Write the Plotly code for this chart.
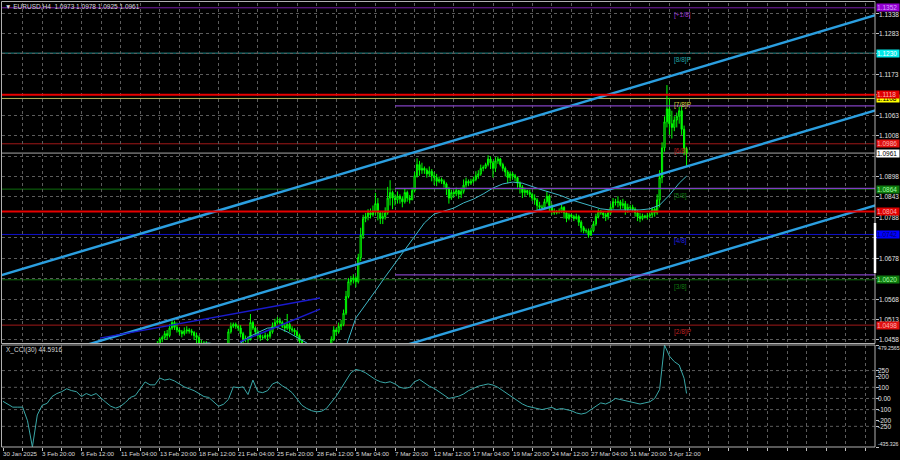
import plotly.graph_objects as go

W, H = 900, 460

def pxx(p):
    return p / W

def pxy(p):
    return 1 - p / H

# ---------------- data ----------------
# H4 bars, index 0 = 30 Jan 2025 04:00 ... index 279 = 4 Apr 2025 16:00
closes = [
    1.0425, 1.0432, 1.0410, 1.0395, 1.0390,
    1.0385, 1.0378, 1.0385, 1.0372, 1.0365, 1.0362,
    1.0230, 1.0260, 1.0290, 1.0310, 1.0330, 1.0345,
    1.0340, 1.0330, 1.0345, 1.0370, 1.0365, 1.0375,
    1.0385, 1.0392, 1.0410, 1.0430, 1.0415, 1.0405,
    1.0400, 1.0395, 1.0370, 1.0375, 1.0385, 1.0382,
    1.0382, 1.0385, 1.0375, 1.0350, 1.0330, 1.0328,
    1.0305, 1.0315, 1.0325, 1.0318, 1.0310, 1.0305,
    1.0300, 1.0290, 1.0310, 1.0355, 1.0362, 1.0360,
    1.0362, 1.0365, 1.0370, 1.0300, 1.0360, 1.0380,
    1.0385, 1.0378, 1.0395, 1.0425, 1.0445, 1.0460,
    1.0465, 1.0475, 1.0470, 1.0490, 1.0505, 1.0492,
    1.0485, 1.0480, 1.0475, 1.0482, 1.0485, 1.0482,
    1.0478, 1.0470, 1.0465, 1.0445, 1.0450, 1.0448,
    1.0445, 1.0440, 1.0425, 1.0415, 1.0420, 1.0425,
    1.0428, 1.0430, 1.0440, 1.0480, 1.0495, 1.0500,
    1.0495, 1.0490, 1.0475, 1.0460, 1.0462, 1.0458,
    1.0505, 1.0490, 1.0480, 1.0470, 1.0465, 1.0465,
    1.0470, 1.0468, 1.0480, 1.0495, 1.0505, 1.0510,
    1.0505, 1.0495, 1.0490, 1.0500, 1.0488, 1.0485,
    1.0480, 1.0470, 1.0455, 1.0425, 1.0405, 1.0400,
    1.0405, 1.0395, 1.0385, 1.0390, 1.0370, 1.0375,
    1.0405, 1.0425, 1.0440, 1.0460, 1.0485, 1.0480,
    1.0495, 1.0500, 1.0530, 1.0575, 1.0615, 1.0620,
    1.0625, 1.0615, 1.0680, 1.0740, 1.0785, 1.0790,
    1.0800, 1.0795, 1.0805, 1.0825, 1.0800, 1.0785,
    1.0790, 1.0800, 1.0840, 1.0855, 1.0840, 1.0835,
    1.0845, 1.0838, 1.0830, 1.0855, 1.0840, 1.0835,
    1.0860, 1.0900, 1.0930, 1.0915, 1.0920, 1.0915,
    1.0905, 1.0912, 1.0900, 1.0895, 1.0885, 1.0890,
    1.0885, 1.0878, 1.0865, 1.0840, 1.0855, 1.0852,
    1.0860, 1.0850, 1.0858, 1.0875, 1.0885, 1.0880,
    1.0885, 1.0890, 1.0900, 1.0905, 1.0920, 1.0922,
    1.0930, 1.0945, 1.0935, 1.0920, 1.0940, 1.0945,
    1.0930, 1.0920, 1.0910, 1.0895, 1.0905, 1.0900,
    1.0895, 1.0880, 1.0870, 1.0855, 1.0860, 1.0855,
    1.0850, 1.0840, 1.0835, 1.0820, 1.0815, 1.0815,
    1.0830, 1.0845, 1.0820, 1.0805, 1.0800, 1.0802,
    1.0805, 1.0815, 1.0800, 1.0785, 1.0795, 1.0790,
    1.0785, 1.0790, 1.0775, 1.0760, 1.0752, 1.0752,
    1.0740, 1.0752, 1.0770, 1.0790, 1.0805, 1.0800,
    1.0795, 1.0790, 1.0800, 1.0815, 1.0830, 1.0828,
    1.0830, 1.0820, 1.0825, 1.0810, 1.0815, 1.0815,
    1.0810, 1.0800, 1.0790, 1.0785, 1.0792, 1.0790,
    1.0792, 1.0795, 1.0810, 1.0800, 1.0835, 1.0895,
    1.0975, 1.1045, 1.1080, 1.1040, 1.1030, 1.1050,
    1.1060, 1.1075, 1.1025, 1.0973, 1.0961,
]
highs = [
    1.0440, 1.0445, 1.0438, 1.0420, 1.0402,
    1.0398, 1.0392, 1.0395, 1.0390, 1.0380, 1.0372,
    1.0260, 1.0275, 1.0300, 1.0325, 1.0345, 1.0360,
    1.0355, 1.0350, 1.0360, 1.0380, 1.0385, 1.0382,
    1.0390, 1.0400, 1.0420, 1.0442, 1.0435, 1.0420,
    1.0410, 1.0405, 1.0400, 1.0385, 1.0395, 1.0390,
    1.0390, 1.0392, 1.0390, 1.0380, 1.0355, 1.0338,
    1.0335, 1.0320, 1.0330, 1.0332, 1.0325, 1.0315,
    1.0312, 1.0305, 1.0318, 1.0368, 1.0375, 1.0368,
    1.0370, 1.0372, 1.0380, 1.0372, 1.0365, 1.0385,
    1.0392, 1.0390, 1.0400, 1.0435, 1.0455, 1.0465,
    1.0470, 1.0482, 1.0485, 1.0500, 1.0513, 1.0510,
    1.0505, 1.0490, 1.0485, 1.0492, 1.0495, 1.0490,
    1.0488, 1.0482, 1.0478, 1.0470, 1.0458, 1.0455,
    1.0455, 1.0450, 1.0445, 1.0430, 1.0428, 1.0432,
    1.0435, 1.0438, 1.0450, 1.0488, 1.0505, 1.0505,
    1.0505, 1.0500, 1.0498, 1.0480, 1.0470, 1.0468,
    1.0528, 1.0510, 1.0495, 1.0485, 1.0478, 1.0472,
    1.0478, 1.0475, 1.0488, 1.0505, 1.0515, 1.0520,
    1.0518, 1.0510, 1.0502, 1.0528, 1.0505, 1.0495,
    1.0490, 1.0485, 1.0475, 1.0460, 1.0430, 1.0410,
    1.0412, 1.0408, 1.0398, 1.0400, 1.0395, 1.0382,
    1.0415, 1.0435, 1.0450, 1.0468, 1.0495, 1.0490,
    1.0505, 1.0512, 1.0540, 1.0590, 1.0625, 1.0630,
    1.0635, 1.0630, 1.0690, 1.0760, 1.0795, 1.0800,
    1.0810, 1.0812, 1.0820, 1.0854, 1.0840, 1.0805,
    1.0805, 1.0815, 1.0870, 1.0888, 1.0860, 1.0850,
    1.0858, 1.0850, 1.0845, 1.0865, 1.0860, 1.0848,
    1.0868, 1.0910, 1.0947, 1.0940, 1.0935, 1.0925,
    1.0920, 1.0925, 1.0918, 1.0910, 1.0905, 1.0898,
    1.0895, 1.0890, 1.0882, 1.0870, 1.0862, 1.0860,
    1.0868, 1.0862, 1.0868, 1.0890, 1.0895, 1.0890,
    1.0892, 1.0898, 1.0912, 1.0915, 1.0930, 1.0928,
    1.0935, 1.0955, 1.0952, 1.0940, 1.0950, 1.0952,
    1.0948, 1.0935, 1.0925, 1.0915, 1.0912, 1.0910,
    1.0905, 1.0898, 1.0885, 1.0875, 1.0868, 1.0862,
    1.0862, 1.0855, 1.0850, 1.0840, 1.0830, 1.0822,
    1.0838, 1.0858, 1.0850, 1.0825, 1.0812, 1.0808,
    1.0812, 1.0822, 1.0818, 1.0805, 1.0800, 1.0798,
    1.0795, 1.0798, 1.0795, 1.0780, 1.0765, 1.0758,
    1.0758, 1.0760, 1.0778, 1.0798, 1.0810, 1.0808,
    1.0805, 1.0800, 1.0808, 1.0825, 1.0840, 1.0838,
    1.0845, 1.0835, 1.0838, 1.0832, 1.0825, 1.0822,
    1.0822, 1.0815, 1.0808, 1.0800, 1.0798, 1.0795,
    1.0800, 1.0802, 1.0815, 1.0815, 1.0850, 1.0915,
    1.0990, 1.1060, 1.1144, 1.1110, 1.1075, 1.1060,
    1.1070, 1.1085, 1.1090, 1.1035, 1.0978,
]
lows = [
    1.0415, 1.0418, 1.0400, 1.0380, 1.0382,
    1.0378, 1.0370, 1.0372, 1.0358, 1.0355, 1.0350,
    1.0141, 1.0220, 1.0250, 1.0280, 1.0300, 1.0320,
    1.0328, 1.0318, 1.0325, 1.0340, 1.0355, 1.0360,
    1.0370, 1.0380, 1.0390, 1.0405, 1.0405, 1.0398,
    1.0392, 1.0382, 1.0365, 1.0360, 1.0370, 1.0375,
    1.0375, 1.0375, 1.0360, 1.0320, 1.0315, 1.0320,
    1.0290, 1.0300, 1.0310, 1.0305, 1.0300, 1.0298,
    1.0290, 1.0280, 1.0285, 1.0305, 1.0345, 1.0352,
    1.0352, 1.0355, 1.0358, 1.0285, 1.0295, 1.0355,
    1.0375, 1.0365, 1.0372, 1.0390, 1.0420, 1.0440,
    1.0452, 1.0460, 1.0458, 1.0465, 1.0485, 1.0485,
    1.0478, 1.0472, 1.0465, 1.0470, 1.0475, 1.0475,
    1.0470, 1.0458, 1.0450, 1.0438, 1.0440, 1.0440,
    1.0438, 1.0430, 1.0410, 1.0400, 1.0408, 1.0415,
    1.0418, 1.0422, 1.0428, 1.0438, 1.0475, 1.0490,
    1.0488, 1.0482, 1.0465, 1.0450, 1.0452, 1.0450,
    1.0480, 1.0485, 1.0470, 1.0460, 1.0455, 1.0458,
    1.0460, 1.0455, 1.0462, 1.0475, 1.0490, 1.0500,
    1.0500, 1.0490, 1.0480, 1.0485, 1.0480, 1.0478,
    1.0470, 1.0462, 1.0445, 1.0415, 1.0395, 1.0392,
    1.0395, 1.0385, 1.0370, 1.0375, 1.0360, 1.0362,
    1.0372, 1.0400, 1.0420, 1.0435, 1.0455, 1.0470,
    1.0475, 1.0485, 1.0495, 1.0525, 1.0570, 1.0605,
    1.0610, 1.0600, 1.0610, 1.0670, 1.0730, 1.0775,
    1.0780, 1.0785, 1.0790, 1.0795, 1.0780, 1.0770,
    1.0770, 1.0782, 1.0795, 1.0820, 1.0810, 1.0820,
    1.0825, 1.0825, 1.0815, 1.0825, 1.0830, 1.0825,
    1.0835, 1.0855, 1.0895, 1.0900, 1.0905, 1.0905,
    1.0895, 1.0898, 1.0885, 1.0875, 1.0872, 1.0880,
    1.0878, 1.0868, 1.0848, 1.0825, 1.0835, 1.0842,
    1.0845, 1.0838, 1.0840, 1.0852, 1.0868, 1.0872,
    1.0875, 1.0880, 1.0885, 1.0892, 1.0900, 1.0912,
    1.0918, 1.0925, 1.0918, 1.0895, 1.0910, 1.0932,
    1.0925, 1.0912, 1.0898, 1.0880, 1.0885, 1.0890,
    1.0885, 1.0868, 1.0852, 1.0840, 1.0845, 1.0848,
    1.0842, 1.0832, 1.0822, 1.0808, 1.0805, 1.0808,
    1.0810, 1.0825, 1.0805, 1.0795, 1.0795, 1.0796,
    1.0798, 1.0800, 1.0785, 1.0775, 1.0780, 1.0785,
    1.0778, 1.0782, 1.0765, 1.0748, 1.0745, 1.0745,
    1.0733, 1.0738, 1.0748, 1.0765, 1.0785, 1.0795,
    1.0785, 1.0778, 1.0782, 1.0795, 1.0810, 1.0820,
    1.0815, 1.0810, 1.0812, 1.0795, 1.0800, 1.0808,
    1.0802, 1.0790, 1.0778, 1.0775, 1.0780, 1.0785,
    1.0782, 1.0786, 1.0788, 1.0790, 1.0795, 1.0815,
    1.0880, 1.0965, 1.1030, 1.1010, 1.1000, 1.1020,
    1.1030, 1.1040, 1.1010, 1.0955, 1.0925,
]
first_open = 1.0420
opens = [first_open] + closes[:-1]
bars = list(range(len(closes)))

# moving average, every 4 bars
ma_idx = list(range(0, 280, 4)) + [279]
ma_val = [
    1.0410, 1.0400, 1.0390, 1.0375, 1.0360, 1.0350, 1.0345, 1.0345,
    1.0350, 1.0355, 1.0355, 1.0350, 1.0345, 1.0345, 1.0350, 1.0365,
    1.0385, 1.0405, 1.0425, 1.0440, 1.0448, 1.0450, 1.0445, 1.0440,
    1.0445, 1.0465, 1.0478, 1.0490, 1.0492, 1.0480, 1.0465, 1.0450,
    1.0425, 1.0410, 1.0420, 1.0440, 1.0517, 1.0552, 1.0590, 1.0628,
    1.0665, 1.0700, 1.0738, 1.0773, 1.0797, 1.0805, 1.0813, 1.0827,
    1.0837, 1.0851, 1.0867, 1.0878, 1.0883, 1.0880, 1.0870, 1.0862,
    1.0854, 1.0846, 1.0835, 1.0827, 1.0819, 1.0811, 1.0808, 1.0808,
    1.0808, 1.0808, 1.0811, 1.0821, 1.0848, 1.0880, 1.0899,
]

# CCI(30), every 2 bars
cci_idx = list(range(0, 280, 2)) + [279]
cci_val = [
    -26, -52, -78, -78, -78, -200, -435.326, -148, -61, -44,
    17, 44, 61, 87, 70, 61, 17, 44, 26, 44,
    0, -35, -70, -87, -70, -35, 9, 26, 87, 148,
    122, 122, 183, 165, 174, 157, 130, 104, 87, 70,
    44, 17, 9, -35, -70, -52, -9, 104, 96, 104,
    35, 165, 61, 52, 70, 130, 148, 113, 87, 52,
    0, -61, -90, -110, -120, -115, -90, -40, 20, 90,
    160, 230, 260, 250, 230, 200, 170, 150, 140, 150,
    130, 100, 90, 100, 150, 170, 140, 110, 90, 60,
    30, 0, 10, 20, 40, 70, 90, 110, 120, 130,
    120, 100, 70, 40, 10, -20, -50, -70, -80, -90,
    -100, -90, -80, -100, -90, -100, -110, -130, -140, -130,
    -100, -70, -40, -50, -30, 0, -10, -20, -30, -40,
    -50, -40, -30, 0, 80, 479.2565, 380, 330, 300, 180,
    44.5916,
]

time_idx = list(range(0, 273, 16))
time_labels = ["30 Jan 2025", "3 Feb 20:00", "6 Feb 12:00", "11 Feb 04:00",
               "13 Feb 20:00", "18 Feb 12:00", "21 Feb 04:00", "25 Feb 20:00",
               "28 Feb 12:00", "5 Mar 04:00", "7 Mar 20:00", "12 Mar 12:00",
               "17 Mar 04:00", "19 Mar 20:00", "24 Mar 12:00", "27 Mar 04:00",
               "31 Mar 20:00", "3 Apr 12:00"]

# price grid (every 0.0055) and the labels that are not covered by level boxes
price_ticks = [1.0458, 1.0513, 1.0568, 1.0623, 1.0678, 1.0733, 1.0788, 1.0843,
               1.0898, 1.0953, 1.1008, 1.1063, 1.1118, 1.1173, 1.1228, 1.1283,
               1.1338]
price_labels = [1.0458, 1.0513, 1.0568, 1.0678, 1.0788, 1.0843, 1.0898,
                1.1008, 1.1063, 1.1173, 1.1283, 1.1338]

murrey_levels = [1.1352, 1.1230, 1.1108, 1.0986, 1.0864, 1.0742, 1.0620, 1.0498]
murrey_names = ["[+1/8]", "[8/8]P", "[7/8]P", "[6/8]", "[5/8]", "[4/8]", "[3/8]", "[2/8]P"]
murrey_line_colors = ["#7a1fa8", "#1e8c8c", "#b4b45a", "#a01818", "#0e6e0e", "#1010c8", "#0e6e0e", "#a01818"]
murrey_text_colors = ["#9a30d0", "#20a8a8", "#d8d840", "#c02020", "#107a10", "#2020e0", "#107a10", "#c02020"]
murrey_box_bg = ["#9400d3", "#00e8e8", "#ffff00", "#e01010", "#0e7a0e", "#0000ff", "#0e7a0e", "#e01010"]
murrey_box_fg = ["#d8a0ff", "#ffffff", "#000000", "#ffb0b0", "#a0ffa0", "#000060", "#a0ffa0", "#ffb0b0"]

red_levels = [1.1118, 1.0804]
purple_levels = [1.1088, 1.0866, 1.0633]
purple_start = 160
bid_price = 1.0961

chan_x = [-2, 357]
chan_upper = [1.0630, 1.1334]
chan_mid = [1.0374, 1.1078]
chan_low = [1.0118, 1.0822]

blue1_x = [39.6, 129.4]
blue1_y = [1.0463, 1.0571]
blue2_x = [96.7, 129.4]
blue2_y = [1.0453, 1.0541]

cci_axis_vals = [479.2565, 250, 200, 100, 0, -100, -200, -250, -435.326]
cci_axis_text = ["479.2565", "250", "200", "100", "0.00", "-100", "-200", "-250", "-435.326"]
cci_grid = [250, 100, 0, -100, -250]

# ---------------- figure ----------------
XR = [-0.408, 355.92]
YR = [1.04499, 1.13649]
CR = [-435.326, 479.2565]
FONT = "Liberation Sans, Arial, DejaVu Sans"
GRID = "#5c5c5c"

fig = go.Figure()

fig.add_trace(go.Candlestick(
    x=bars, open=opens, high=highs, low=lows, close=closes,
    increasing=dict(line=dict(color="#00ff00", width=1), fillcolor="#000000"),
    decreasing=dict(line=dict(color="#00ff00", width=1), fillcolor="#00ff00"),
    whiskerwidth=0, xaxis="x", yaxis="y", showlegend=False, hoverinfo="skip"))

fig.add_trace(go.Scatter(x=ma_idx, y=ma_val, mode="lines",
                         line=dict(color="#3fb8c8", width=1), xaxis="x", yaxis="y",
                         showlegend=False, hoverinfo="skip"))

for yy in (chan_upper, chan_mid, chan_low):
    fig.add_trace(go.Scatter(x=chan_x, y=yy, mode="lines",
                             line=dict(color="#2b9fe0", width=2.4), xaxis="x", yaxis="y",
                             showlegend=False, hoverinfo="skip"))

for xx, yy in ((blue1_x, blue1_y), (blue2_x, blue2_y)):
    fig.add_trace(go.Scatter(x=xx, y=yy, mode="lines",
                             line=dict(color="#1a1acd", width=1.5), xaxis="x", yaxis="y",
                             showlegend=False, hoverinfo="skip"))

fig.add_trace(go.Scatter(x=cci_idx, y=cci_val, mode="lines",
                         line=dict(color="#3aa8a8", width=1), xaxis="x2", yaxis="y2",
                         showlegend=False, hoverinfo="skip"))

shapes = []
for lv, col in zip(murrey_levels, murrey_line_colors):
    shapes.append(dict(type="line", xref="x domain", yref="y", x0=0, x1=1, y0=lv, y1=lv,
                       line=dict(color=col, width=1), layer="below"))
for lv in purple_levels:
    shapes.append(dict(type="line", xref="x", yref="y", x0=purple_start, x1=XR[1], y0=lv, y1=lv,
                       line=dict(color="#8040c0", width=1.2), layer="above"))
shapes.append(dict(type="line", xref="x domain", yref="y", x0=0, x1=1, y0=bid_price, y1=bid_price,
                   line=dict(color="#a8a8a8", width=1), layer="below"))
for lv in red_levels:
    shapes.append(dict(type="line", xref="x domain", yref="y", x0=0, x1=1, y0=lv, y1=lv,
                       line=dict(color="#e80000", width=2), layer="above"))
for lv in cci_grid:
    shapes.append(dict(type="line", xref="x2 domain", yref="y2", x0=0, x1=1, y0=lv, y1=lv,
                       line=dict(color=GRID, width=1, dash="dot"), layer="below"))
shapes.append(dict(type="rect", xref="paper", yref="paper", x0=pxx(1.5), x1=pxx(875), y0=pxy(343.5), y1=pxy(1.5),
                   line=dict(color="#b0b0b0", width=1), layer="above"))
shapes.append(dict(type="rect", xref="paper", yref="paper", x0=pxx(1.5), x1=pxx(875), y0=pxy(447), y1=pxy(345),
                   line=dict(color="#b0b0b0", width=1), layer="above"))
shapes.append(dict(type="line", xref="paper", yref="paper", x0=pxx(875), x1=pxx(875), y0=pxy(273), y1=pxy(223),
                   line=dict(color="#ffffff", width=2.5), layer="above"))

annotations = []
annotations.append(dict(xref="paper", yref="paper", x=pxx(3), y=pxy(6.5), xanchor="left", yanchor="middle",
                        text="▼ EURUSD,H4  1.0973 1.0978 1.0925 1.0961", showarrow=False,
                        font=dict(family=FONT, size=6.5, color="#d8d8d8")))
annotations.append(dict(xref="paper", yref="paper", x=pxx(4), y=pxy(350), xanchor="left", yanchor="middle",
                        text="X_CCI(30) 44.5916", showarrow=False,
                        font=dict(family=FONT, size=6.5, color="#d8d8d8")))
for ti, tl in zip(time_idx, time_labels):
    annotations.append(dict(xref="x2", yref="paper", x=ti, y=pxy(453), xanchor="left", yanchor="middle",
                            text=tl, showarrow=False, xshift=-2,
                            font=dict(family=FONT, size=6.2, color="#d8d8d8")))
for pv in price_labels:
    ys = -2 if pv == price_labels[-1] else 0
    annotations.append(dict(xref="paper", yref="y", x=pxx(877), y=pv, xanchor="left", yanchor="middle",
                            text=f"{pv:.4f}", showarrow=False, yshift=ys,
                            font=dict(family=FONT, size=6.5, color="#e0e0e0")))
for lv, nm, tc, bg, fg in zip(murrey_levels, murrey_names, murrey_text_colors, murrey_box_bg, murrey_box_fg):
    annotations.append(dict(xref="paper", yref="y", x=pxx(672), y=lv, xanchor="left", yanchor="top",
                            text=nm, showarrow=False, yshift=-1,
                            font=dict(family=FONT, size=6.5, color=tc)))
    annotations.append(dict(xref="paper", yref="y", x=pxx(876), y=lv, xanchor="left", yanchor="middle",
                            text=f"{lv:.4f}", showarrow=False, bgcolor=bg, borderpad=0, width=22, align="left",
                            font=dict(family=FONT, size=6.5, color=fg)))
for lv in red_levels:
    annotations.append(dict(xref="paper", yref="y", x=pxx(876), y=lv, xanchor="left", yanchor="middle",
                            text=f"{lv:.4f}", showarrow=False, bgcolor="#e00000", borderpad=0, width=22, align="left",
                            font=dict(family=FONT, size=6.5, color="#ffb0b0")))
annotations.append(dict(xref="paper", yref="y", x=pxx(876), y=bid_price, xanchor="left", yanchor="middle",
                        text=f"{bid_price:.4f}", showarrow=False, bgcolor="#ffffff", borderpad=0, width=22, align="left",
                        font=dict(family=FONT, size=6.5, color="#000000")))
for cv, ct in zip(cci_axis_vals, cci_axis_text):
    ys = 0
    fs = 6.5
    if cv == cci_axis_vals[0]:
        ys = -3
        fs = 5.2
    if cv == cci_axis_vals[-1]:
        ys = 3
        fs = 5.2
    annotations.append(dict(xref="paper", yref="y2", x=pxx(876), y=cv, xanchor="left", yanchor="middle",
                            text=ct, showarrow=False, yshift=ys,
                            font=dict(family=FONT, size=fs, color="#e0e0e0")))

grid_x = list(range(0, 357, 8))

fig.update_layout(
    width=W, height=H, margin=dict(l=0, r=0, t=0, b=0),
    paper_bgcolor="#000000", plot_bgcolor="#000000",
    showlegend=False, shapes=shapes, annotations=annotations,
    xaxis=dict(domain=[pxx(2), pxx(875)], range=XR, anchor="y", tickvals=grid_x,
               showticklabels=False, ticks="", showgrid=True, gridcolor=GRID, griddash="dot",
               gridwidth=1, zeroline=False, showline=False, rangeslider=dict(visible=False), fixedrange=True),
    yaxis=dict(domain=[pxy(343), pxy(3)], range=YR, anchor="x", side="right", tickvals=price_ticks,
               showticklabels=False, ticks="outside", ticklen=3, tickcolor="#c0c0c0",
               showgrid=True, gridcolor=GRID, griddash="dot", gridwidth=1, zeroline=False, showline=False),
    xaxis2=dict(domain=[pxx(2), pxx(875)], range=XR, anchor="y2", tickvals=grid_x,
                showticklabels=False, ticks="outside", ticklen=3, tickcolor="#c0c0c0",
                showgrid=True, gridcolor=GRID, griddash="dot", gridwidth=1, zeroline=False,
                showline=False),
    yaxis2=dict(domain=[pxy(447), pxy(345)], range=CR, anchor="x2", side="right",
                tickvals=[479.2565, 250, 200, 100, 0, -100, -200, -250, -435.326],
                showticklabels=False, ticks="outside", ticklen=3, tickcolor="#c0c0c0",
                showgrid=False, zeroline=False, showline=False),
)

fig.write_html("out.html", config={"displayModeBar": False},
               post_script="document.body.style.margin='0';document.body.style.background='#000';")
